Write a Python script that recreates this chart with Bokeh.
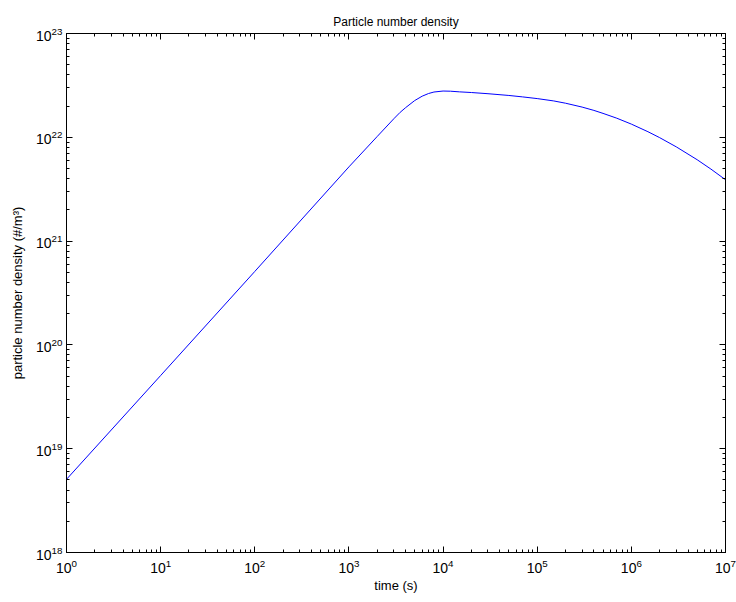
from bokeh.plotting import figure
from bokeh.models import LogAxis, FixedTicker, Range1d, CustomJSTickFormatter
from bokeh.embed import file_html
from bokeh.resources import INLINE

# data
time_s = [1, 10, 100, 1000, 2000, 3000, 3500, 4000, 5000, 6000, 7000, 8000,
          10000, 12000, 15000, 20000, 30000, 50000, 70000, 1e5, 1.5e5, 2e5,
          3e5, 4e5, 5e5, 7e5, 1e6, 1.5e6, 2e6, 3e6, 5e6, 7e6, 1e7]
density = [5.07e18, 5.07e19, 5.1e20, 5.19e21, 1.02e22, 1.51e22, 1.74e22, 1.93e22,
           2.26e22, 2.49e22, 2.64e22, 2.73e22, 2.79e22, 2.78e22, 2.74e22, 2.70e22,
           2.63e22, 2.53e22, 2.45e22, 2.36e22, 2.24e22, 2.13e22,
           1.955e22, 1.816e22, 1.70e22, 1.528e22, 1.34e22, 1.132e22, 9.92e21,
           8.09e21, 6.08e21, 4.94e21, 3.9e21]

x_decades = [0, 1, 2, 3, 4, 5, 6, 7]
y_decades = [18, 19, 20, 21, 22, 23]

FONT = "Liberation Sans"

x_major = [10.0 ** d for d in x_decades]
x_minor = [m * 10.0 ** d for d in x_decades[:-1] for m in range(2, 10)]
y_major = [10.0 ** d for d in y_decades]
y_minor = [m * 10.0 ** d for d in y_decades[:-1] for m in range(2, 10)]

p = figure(x_axis_type="log", y_axis_type="log",
           x_range=Range1d(x_major[0], x_major[-1]),
           y_range=Range1d(y_major[0], y_major[-1]),
           frame_width=659, frame_height=519,
           min_border_left=66, min_border_right=11,
           min_border_top=33, min_border_bottom=50,
           output_backend="svg", toolbar_location=None,
           title="Particle number density")

p.title.align = "center"
p.title.text_font = FONT
p.title.text_font_style = "normal"
p.title.text_font_size = "12px"
p.title.text_color = "black"

p.line(time_s, density, line_color="#0000ff", line_width=1)

p.grid.visible = False
p.outline_line_color = "black"
p.outline_line_width = 1
p.background_fill_color = "white"
p.border_fill_color = "white"

xt = FixedTicker(ticks=x_major, minor_ticks=x_minor)
yt = FixedTicker(ticks=y_major, minor_ticks=y_minor)

def style(ax, ticker):
    ax.ticker = ticker
    ax.axis_line_color = "black"
    ax.major_tick_in = 6
    ax.major_tick_out = 0
    ax.minor_tick_in = 3
    ax.minor_tick_out = 0
    ax.major_tick_line_color = "black"
    ax.minor_tick_line_color = "black"
    ax.major_label_text_font = FONT
    ax.major_label_text_font_size = "14px"
    ax.major_label_text_color = "black"
    ax.axis_label_text_font = FONT
    ax.axis_label_text_font_size = "13px"
    ax.axis_label_text_font_style = "normal"
    ax.axis_label_text_color = "black"

style(p.xaxis[0], xt)
style(p.yaxis[0], yt)
p.xaxis[0].axis_label = "time (s)"
p.yaxis[0].axis_label = "particle number density (#/m³)"
p.xaxis[0].major_label_standoff = 6
p.yaxis[0].major_label_standoff = 4
p.xaxis[0].axis_label_standoff = 2
p.yaxis[0].axis_label_standoff = 8

blank = CustomJSTickFormatter(code="return ''")
for loc, tk in (("right", yt), ("above", xt)):
    ax = LogAxis()
    style(ax, tk)
    ax.formatter = blank
    ax.major_label_text_font_size = "0px"
    ax.major_label_standoff = 0
    p.add_layout(ax, loc)

open("out.html", "w").write(file_html(p, INLINE))
